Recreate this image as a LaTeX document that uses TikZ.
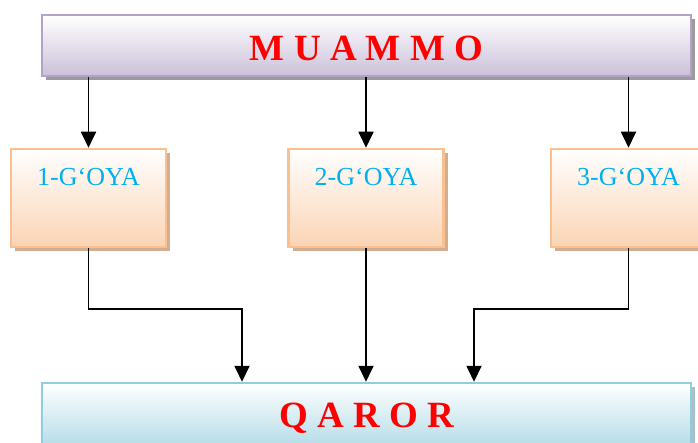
\documentclass[tikz,border=0pt]{standalone}
\usepackage{fontspec}
\setmainfont{Liberation Serif}
\usetikzlibrary{shapes,arrows,positioning,shadows,arrows.meta,calc}

\definecolor{muammoline}{RGB}{179,162,199}
\definecolor{muammofill}{RGB}{204,192,218}
\definecolor{goyaline}{RGB}{250,192,144}
\definecolor{goyafill}{RGB}{251,212,180}
\definecolor{qarorline}{RGB}{146,205,220}
\definecolor{qarorfill}{RGB}{182,221,232}
\definecolor{goyatext}{RGB}{0,176,240}

\begin{document}
\begin{tikzpicture}[
    x=1pt, y=-1pt,
    bigbox/.style={
      rectangle,
      draw,
      line width=2.5pt,
      minimum width=649pt,
      inner sep=0pt,
      text depth=0pt,
      top color=white,
      text=red,
      font=\fontsize{37}{40}\selectfont\bfseries,
    },
    goyabox/.style={
      rectangle,
      draw=goyaline,
      line width=2.5pt,
      minimum width=155pt,
      inner xsep=0pt,
      inner ysep=0pt,
      text height=37pt,
      text depth=61pt,
      top color=white,
      bottom color=goyafill,
      text=goyatext,
      font=\fontsize{26}{28}\selectfont,
      drop shadow={shadow xshift=4pt, shadow yshift=-4pt,
        fill={rgb,255:red,190;green,140;blue,100}, opacity=0.7},
    },
    link/.style={line width=1.8pt, -{Triangle[length=16pt,width=15pt]}},
  ]
    \useasboundingbox (0,0) rectangle (698,443);

    \node[bigbox, draw=muammoline, bottom color=muammofill, minimum height=61pt,
      text height=31pt,
      drop shadow={shadow xshift=4pt, shadow yshift=-4pt, fill=black!60, opacity=0.65}]
      (Muammo) at (366.5,45.5) {M U A M M O};

    \node[goyabox] (Goya1) at (88.5,198) {1-G‘OYA};
    \node[goyabox] (Goya2) at (366,198) {2-G‘OYA};
    \node[goyabox] (Goya3) at (628.5,198) {3-G‘OYA};

    \node[bigbox, draw=qarorline, bottom color=qarorfill, minimum height=62pt,
      text height=26pt,
      drop shadow={shadow xshift=4pt, shadow yshift=-4pt,
        fill={rgb,255:red,120;green,160;blue,175}, opacity=0.65}]
      (Qaror) at (366.5,414) {Q A R O R};

    % Muammo --> goyalar
    \draw[link] (Muammo.south -| Goya1.north) -- (Goya1.north);
    \draw[link] (Muammo.south -| Goya2.north) -- (Goya2.north);
    \draw[link] (Muammo.south -| Goya3.north) -- (Goya3.north);

    % goyalar --> Qaror
    \coordinate (JoinL) at (242,309);
    \coordinate (JoinR) at (474,309);
    \draw[link] (Goya1.south) |- (JoinL) -- (JoinL |- Qaror.north);
    \draw[link] (Goya2.south) -- (Goya2.south |- Qaror.north);
    \draw[link] (Goya3.south) |- (JoinR) -- (JoinR |- Qaror.north);
  \end{tikzpicture}
\end{document}
